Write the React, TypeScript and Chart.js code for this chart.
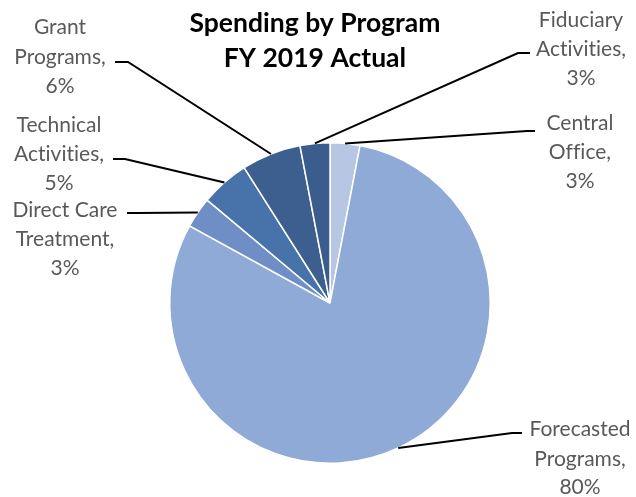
import React, { useEffect, useRef } from "react";
import { Chart, registerables } from "chart.js";

Chart.register(...registerables);

const categories = [
  "Central Office",
  "Forecasted Programs",
  "Direct Care Treatment",
  "Technical Activities",
  "Grant Programs",
  "Fiduciary Activities",
];
const spending = [3.0, 80.0, 3.1, 4.9, 6.0, 3.0];
const sliceColors = ["#b7c6e3", "#8faad6", "#6f8ec6", "#4873aa", "#3c5f90", "#3a5d8e"];
const labelLines = [
  ["Central", "Office,"],
  ["Forecasted", "Programs,"],
  ["Direct Care", "Treatment,"],
  ["Technical", "Activities,"],
  ["Grant", "Programs,"],
  ["Fiduciary", "Activities,"],
];
const titleLines = ["Spending by Program", "FY 2019 Actual"];

// layout of the outside labels (position only)
const labelLayout = [
  { cx: 580, by: [130, 159, 188], ex: 527, ey: 131, sx: 535 },
  { cx: 580, by: [436, 466, 494], ex: 512, ey: 433, sx: 522 },
  { cx: 65, by: [217, 246, 275], ex: 137, ey: 213, sx: 127 },
  { cx: 59, by: [132, 161, 190], ex: 125, ey: 159, sx: 113 },
  { cx: 60, by: [34, 64, 93], ex: 128, ey: 62, sx: 115 },
  { cx: 581, by: [27, 56, 85], ex: 518, ey: 53, sx: 530 },
];

const FONT = "Lato, 'Open Sans', sans-serif";

const labelPlugin = {
  id: "outsideLabels",
  afterDraw(chart: any) {
    const ctx = chart.ctx;
    const meta = chart.getDatasetMeta(0);
    ctx.save();
    try {
      (ctx as any).letterSpacing = "0.01px";
    } catch (e) {}
    // title
    ctx.fillStyle = "#000000";
    ctx.font = `bold 26.5px ${FONT}`;
    ctx.textAlign = "center";
    ctx.textBaseline = "alphabetic";
    ctx.fillText(titleLines[0], 315, 32);
    ctx.fillText(titleLines[1], 315, 67);

    meta.data.forEach((arc: any, i: number) => {
      const p = arc.getProps(["x", "y", "startAngle", "endAngle", "outerRadius"], true);
      const mid = (p.startAngle + p.endAngle) / 2;
      const ax = p.x + Math.cos(mid) * p.outerRadius;
      const ay = p.y + Math.sin(mid) * p.outerRadius;
      const L = labelLayout[i];
      ctx.strokeStyle = "#000000";
      ctx.lineWidth = 2;
      ctx.beginPath();
      ctx.moveTo(ax, ay);
      ctx.lineTo(L.ex, L.ey);
      ctx.lineTo(L.sx, L.ey);
      ctx.stroke();

      const pct = Math.round(spending[i]) + "%";
      const lines = [...labelLines[i], pct];
      ctx.fillStyle = "#595959";
      ctx.font = `21px ${FONT}`;
      ctx.textAlign = "center";
      lines.forEach((t, k) => ctx.fillText(t, L.cx, L.by[k]));
    });
    ctx.restore();
  },
};

export default function App() {
  const ref = useRef<HTMLCanvasElement>(null);
  useEffect(() => {
    document.body.style.margin = "0";
    const chart = new Chart(ref.current!, {
      type: "pie",
      data: {
        labels: categories,
        datasets: [
          {
            data: spending,
            backgroundColor: sliceColors,
            borderColor: "#ffffff",
            borderWidth: 1.5,
          },
        ],
      },
      options: {
        animation: false,
        responsive: false,
        layout: { padding: { left: 169, right: 145, top: 142, bottom: 33 } },
        plugins: {
          legend: { display: false },
          title: { display: false },
          tooltip: { enabled: false },
        },
      },
      plugins: [labelPlugin],
    });
    return () => chart.destroy();
  }, []);
  return (
    <div style={{ width: 636, height: 497, background: "#ffffff" }}>
      <canvas ref={ref} width={636} height={497} />
    </div>
  );
}
